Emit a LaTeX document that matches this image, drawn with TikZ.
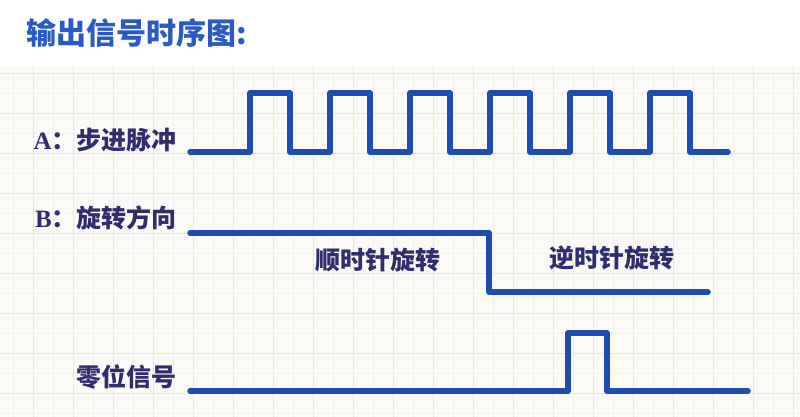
\documentclass[tikz,border=0pt]{standalone}
\usepackage{fontspec}
\setmainfont{Liberation Serif}
\newfontfamily\cjk{Noto Sans CJK SC}
\usepackage{tikz}
\usetikzlibrary{positioning}

\definecolor{wave}{HTML}{1E4DB0}
\definecolor{ttl}{HTML}{2A5BC4}
\definecolor{lab}{HTML}{2E2D6E}
\definecolor{paper}{HTML}{FCFAF7}
\definecolor{gridmin}{HTML}{F3F1EE}
\definecolor{gridmaj}{HTML}{E9E6E3}

\begin{document}
\begin{tikzpicture}[x=1pt, y=-1pt]

\tikzstyle{sig} = [draw=wave, line width=5.5pt, line cap=round, line join=round]
\tikzstyle{lbl} = [text=lab, inner sep=0pt, font=\cjk\bfseries\fontsize{25}{25}\selectfont]
\tikzstyle{ttlbox} = [text=ttl, inner sep=0pt, anchor=west, font=\cjk\bfseries\fontsize{30}{30}\selectfont]

\useasboundingbox (0,0) rectangle (800,417);
\fill[white] (0,0) rectangle (800,417);

% grid paper
\fill[paper] (0,66) rectangle (800,417);
\foreach \x in {13,33,...,793}
    \draw[gridmin, line width=0.6pt] (\x,66) -- (\x,417);
\foreach \y in {73,93,...,413}
    \draw[gridmin, line width=0.6pt] (0,\y) -- (800,\y);
\foreach \x in {33,73,...,793}
    \draw[gridmaj, line width=0.8pt] (\x,66) -- (\x,417);
\foreach \y in {73,113,...,393}
    \draw[gridmaj, line width=0.8pt] (0,\y) -- (800,\y);

% title
\node[ttlbox] (title) at (26,33) {输出信号时序图:};

% signal labels
\node[lbl, anchor=east] (labA) at (177,140) {{\rmfamily\bfseries\fontsize{25}{25}\selectfont A}：步进脉冲};
\node[lbl, anchor=east] (labB) at (177,218) {{\rmfamily\bfseries\fontsize{25}{25}\selectfont B}：旋转方向};
\node[lbl, anchor=east] (labZ) at (177,377) {零位信号};
\node[lbl] (cw)  at (378,260) {顺时针旋转};
\node[lbl] (ccw) at (612,258) {逆时针旋转};

% end points of the waveforms
\coordinate (A-s) at (190,152);
\coordinate (A-e) at (728,152);
\coordinate (B-s) at (190,233);
\coordinate (B-e) at (708,292);
\coordinate (Z-s) at (190,391);
\coordinate (Z-e) at (748,391);

% A: step pulses
\draw[sig] (A-s)
    \foreach \k in {0,...,5} {
        -- (250+80*\k,152) -- (250+80*\k,93) -- (290+80*\k,93) -- (290+80*\k,152)
    } -- (A-e);

% B: direction
\draw[sig] (B-s) -- (489,233) -- (489,292) -- (B-e);

% zero signal
\draw[sig] (Z-s) -- (568,391) -- (568,333) -- (607,333) -- (607,391) -- (Z-e);

\end{tikzpicture}
\end{document}
